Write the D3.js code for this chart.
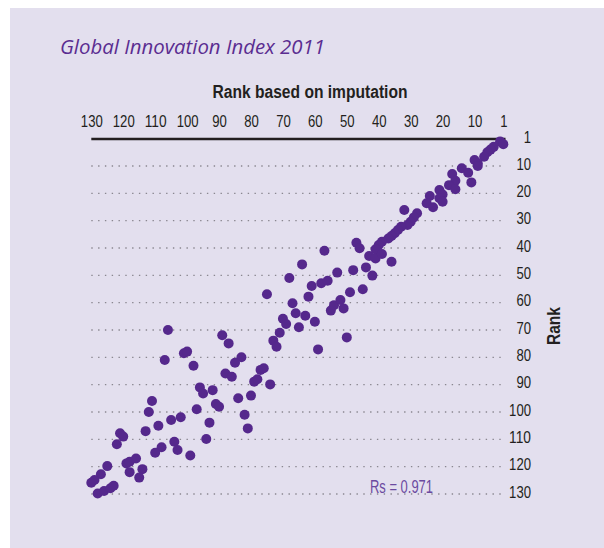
<!DOCTYPE html>
<html>
<head>
<meta charset="utf-8">
<script src="https://cdn.jsdelivr.net/npm/d3@7"></script>
<style>
  html, body { margin: 0; padding: 0; background: #ffffff; }
  svg { display: block; }
  .narrow { font-family: "Liberation Sans Narrow", "Arial Narrow", "Liberation Sans", "DejaVu Sans Condensed", sans-serif; font-stretch: condensed; }
</style>
</head>
<body>
<svg id="chart" width="604" height="548"></svg>
<script>
// ---- Data ----
const chartTitle = "Global Innovation Index 2011";
const xAxisTitle = "Rank based on imputation";
const yAxisTitle = "Rank";
const statLabel = "Rs = 0.971";

const xTickValues = [130, 120, 110, 100, 90, 80, 70, 60, 50, 40, 30, 20, 10, 1];
const yTickValues = [1, 10, 20, 30, 40, 50, 60, 70, 80, 90, 100, 110, 120, 130];
const gridValues = [10, 20, 30, 40, 50, 60, 70, 80, 90, 100, 110, 120, 130];

// rank based on imputation (x) and GII rank (y), paired by index
const imputationRank = [
  2, 1, 4, 5, 6, 7, 9, 10, 9, 14,
  12, 17, 11, 16, 18, 16, 21, 20, 24, 21,
  25, 23, 20, 32, 28, 29, 30, 31, 33, 34,
  35, 36, 37, 39, 40, 41, 43, 41, 39, 36,
  47, 46, 57, 64, 53, 48, 44, 42, 61, 58,
  56, 49, 45, 62, 55, 54, 52, 51, 63, 60,
  106, 107, 101, 100, 98, 89, 87, 83, 85, 88,
  86, 96, 95, 92, 97, 91, 90, 93, 94, 99,
  104, 103, 105, 102, 109, 111, 112, 113, 108, 110,
  121, 120, 122, 125, 127, 129, 130, 119, 118, 116,
  118, 114, 115, 128, 126, 124, 123, 84, 80, 82,
  81, 79, 78, 77, 76, 74, 73, 72, 71, 70,
  69, 67, 66, 65, 59, 68, 75, 50
];
const giiRank = [
  1, 2, 3, 4, 5, 6.6, 9, 7.8, 10, 10.8,
  12.5, 12.9, 16, 15.4, 17, 18.5, 18.8, 20.4, 21, 21.8,
  23.6, 25.1, 23.1, 26.1, 27.3, 28.8, 30.4, 31.6, 32.2, 33.4,
  34.6, 35.6, 36.5, 37.7, 38.9, 40.5, 42.9, 43.8, 42.2, 45,
  38.1, 40.1, 41, 46, 49, 48.1, 47.1, 50.1, 53.9, 52.9,
  52, 56.2, 55.1, 57.8, 62.9, 60.9, 59, 62.1, 64.8, 67,
  70, 81, 78.5, 77.9, 83.1, 71.9, 74.9, 80, 82, 85.9,
  87.1, 91, 93.2, 92, 99, 97.1, 98.1, 103.9, 109.9, 115.9,
  110.9, 113.9, 102.9, 101.9, 105, 96, 100, 107, 112.9, 114.9,
  107.8, 109, 111.8, 119.8, 122.8, 124.9, 125.9, 118.8, 118.2, 117,
  122, 120.9, 124, 129.8, 128.9, 127.9, 127, 95, 94, 101,
  106, 88.9, 88, 84.6, 84, 89.9, 73.9, 76.1, 71, 65.9,
  67.8, 60.2, 63.9, 69, 77.1, 51, 56.9, 72.7
];

// ---- Drawing ----
const svg = d3.select("#chart");
const purple = "#55288c";
const digitWidth = 7.3;

svg.append("rect")
  .attr("x", 10).attr("y", 8)
  .attr("width", 604).attr("height", 548)
  .attr("fill", "#e3dfee");

const x = d3.scaleLinear().domain([130, 1]).range([91.3, 503.3]);
const y = d3.scaleLinear().domain([10, 130]).range([166, 494]);

// title
svg.append("text")
  .attr("x", 60).attr("y", 54)
  .attr("font-family", "'Open Sans', 'Noto Sans', sans-serif")
  .attr("font-style", "italic")
  .attr("font-size", 19.5)
  .attr("fill", "#5b2d91")
  .attr("textLength", 265)
  .attr("lengthAdjust", "spacingAndGlyphs")
  .text(chartTitle);

// x axis title
svg.append("text")
  .attr("class", "narrow")
  .attr("x", 310).attr("y", 98)
  .attr("text-anchor", "middle")
  .attr("font-size", 17.5)
  .attr("font-weight", "bold")
  .attr("fill", "#231f20")
  .attr("textLength", 195)
  .attr("lengthAdjust", "spacingAndGlyphs")
  .text(xAxisTitle);

// gridlines (dotted)
svg.append("g")
  .selectAll("line")
  .data(gridValues)
  .join("line")
  .attr("x1", x(130)).attr("x2", 501)
  .attr("y1", d => y(d)).attr("y2", d => y(d))
  .attr("stroke", "#8a8790")
  .attr("stroke-width", 1.4)
  .attr("stroke-dasharray", "1.4 5.4");

// top axis (labels only, line drawn separately)
const topAxis = d3.axisTop(x).tickValues(xTickValues).tickSize(0).tickPadding(0).tickFormat(d3.format("d"));
const gTop = svg.append("g").attr("transform", "translate(0,126.5)").call(topAxis);
gTop.select(".domain").remove();
gTop.selectAll("text")
  .attr("class", "narrow")
  .attr("font-size", 17)
  .attr("fill", "#231f20")
  .attr("dy", 0)
  .attr("textLength", d => String(d).length * digitWidth)
  .attr("lengthAdjust", "spacingAndGlyphs");

svg.append("line")
  .attr("x1", x(130)).attr("x2", 505.5)
  .attr("y1", 139).attr("y2", 139)
  .attr("stroke", "#231f20")
  .attr("stroke-width", 2.6);

// right axis labels
const rightAxis = d3.axisRight(y).tickValues(yTickValues).tickSize(0).tickPadding(0).tickFormat(d3.format("d"));
const gRight = svg.append("g").attr("transform", "translate(531,0)").call(rightAxis);
gRight.select(".domain").remove();
gRight.selectAll(".tick")
  .attr("transform", d => `translate(0,${d === 1 ? 137 : y(d) - 2.5})`);
gRight.selectAll("text")
  .attr("class", "narrow")
  .attr("font-size", 17)
  .attr("fill", "#231f20")
  .attr("text-anchor", "end")
  .attr("x", 0)
  .attr("dy", "0.36em")
  .attr("textLength", d => String(d).length * digitWidth)
  .attr("lengthAdjust", "spacingAndGlyphs");

// y axis title
svg.append("text")
  .attr("class", "narrow")
  .attr("transform", "translate(560,326) rotate(-90)")
  .attr("text-anchor", "middle")
  .attr("font-size", 17.5)
  .attr("font-weight", "bold")
  .attr("fill", "#231f20")
  .attr("textLength", 38)
  .attr("lengthAdjust", "spacingAndGlyphs")
  .text(yAxisTitle);

// points
const points = imputationRank.map((v, i) => ({ xr: v, yr: giiRank[i] }));
svg.append("g")
  .selectAll("circle")
  .data(points)
  .join("circle")
  .attr("cx", d => x(d.xr))
  .attr("cy", d => y(d.yr))
  .attr("r", 5)
  .attr("fill", purple);

// statistic label
svg.append("text")
  .attr("class", "narrow")
  .attr("x", 370).attr("y", 493)
  .attr("font-size", 18)
  .attr("fill", "#6b4aa0")
  .attr("textLength", 63)
  .attr("lengthAdjust", "spacingAndGlyphs")
  .text(statLabel);
</script>
</body>
</html>
